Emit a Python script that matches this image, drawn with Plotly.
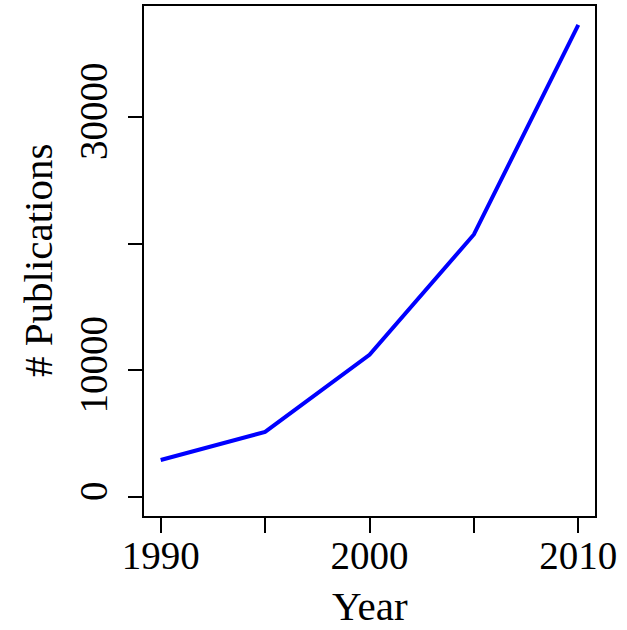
import plotly.graph_objects as go

years = [1990, 1995, 2000, 2005, 2010]
publications = [2930, 5150, 11240, 20740, 37290]
x_ticks = [1990, 1995, 2000, 2005, 2010]
x_tick_labels = ["1990", "", "2000", "", "2010"]
y_ticks = [0, 10000, 20000, 30000]
y_tick_labels = ["0", "10000", "", "30000"]

FONT = "Liberation Serif, Times New Roman, serif"

xr = [years[0] - 0.04 * (years[-1] - years[0]), years[-1] + 0.04 * (years[-1] - years[0])]
ymax = max(publications)
yr = [0 - 0.04 * ymax, ymax * 1.04]

L, R, T, B = 144, 32, 6, 114
W, H = 627, 630
pw, ph = W - L - R, H - T - B

fig = go.Figure()
fig.add_trace(go.Scatter(x=years, y=publications, mode="lines",
                         line=dict(color="#0000FF", width=4), showlegend=False))

fig.update_layout(
    width=W, height=H,
    margin=dict(l=L, r=R, t=T, b=B),
    paper_bgcolor="white", plot_bgcolor="white",
    font=dict(family=FONT, size=39, color="black"),
    xaxis=dict(range=xr, tickvals=x_ticks, ticktext=x_tick_labels,
               showgrid=False, zeroline=False, showline=True, mirror=True,
               linecolor="black", linewidth=2, ticks="outside", ticklen=15,
               tickwidth=2, tickcolor="black", automargin=False,
               ticklabelstandoff=-11),
    yaxis=dict(range=yr, tickvals=y_ticks, ticktext=y_tick_labels,
               showgrid=False, zeroline=False, showline=True, mirror=True,
               linecolor="black", linewidth=2, ticks="outside", ticklen=14,
               tickwidth=2, tickcolor="black", tickangle=-90, automargin=False,
               ticklabelstandoff=5),
    annotations=[
        dict(text="Year", xref="paper", yref="paper",
             x=0.5, y=(T + ph - 629.5) / ph, xanchor="center", yanchor="bottom",
             showarrow=False, font=dict(size=41), borderpad=0),
        dict(text="# Publications", xref="paper", yref="paper",
             x=(38 - L) / pw, y=0.5, xanchor="center", yanchor="middle",
             textangle=-90, showarrow=False, font=dict(size=41)),
    ],
)

fig.write_html("out.html", config={"displayModeBar": False},
               post_script="document.body.style.margin='0';document.body.style.overflow='hidden';")
